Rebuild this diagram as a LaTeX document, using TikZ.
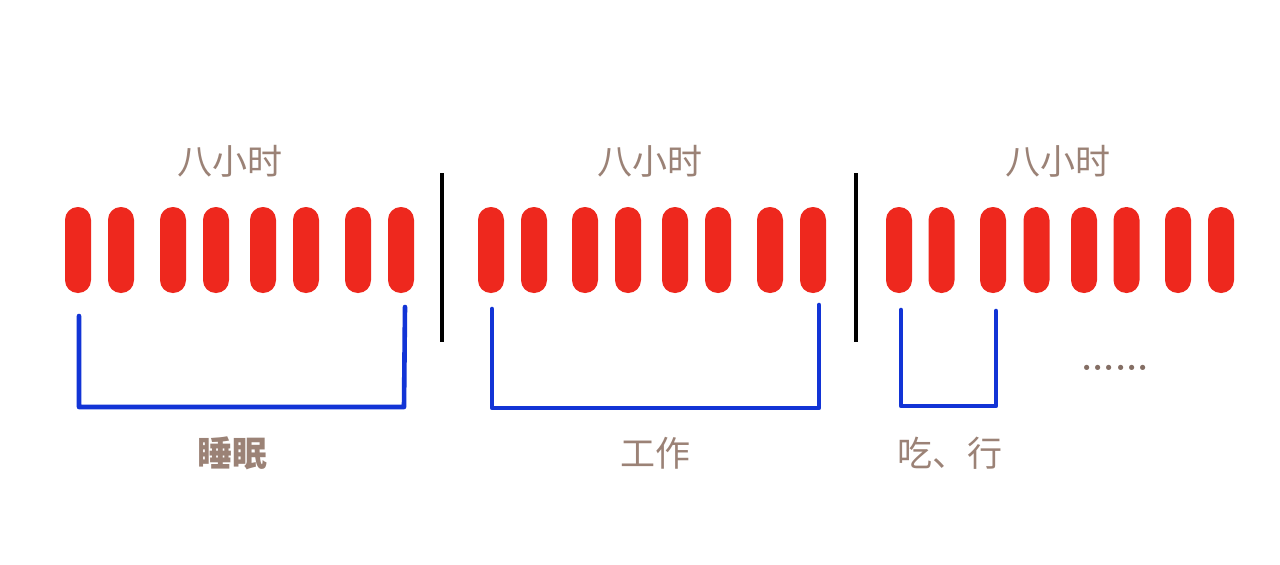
\documentclass[tikz,border=0pt]{standalone}
\usepackage{fontspec}
\newfontfamily\cjk{Noto Sans CJK SC}
\definecolor{pillred}{RGB}{238,40,30}
\definecolor{txtbrown}{RGB}{155,130,118}
\definecolor{brblue}{RGB}{18,52,214}
\begin{document}
\begin{tikzpicture}[x=0.5pt,y=-0.5pt,
  pill/.style={fill=pillred, draw=none, minimum width=13pt, minimum height=43pt, rounded corners=6.4pt, inner sep=0pt},
  lbl/.style={text=txtbrown, font=\cjk\fontsize{17.5}{20}\selectfont, inner sep=0pt},
  sep/.style={line width=2.2pt, black},
  bracket/.style={line width=2.3pt, brblue, line join=round, line cap=round}]
\useasboundingbox (0,0) rectangle (1280,564);
\fill[white] (0,0) rectangle (1280,564);
% pills
\foreach \x [count=\i] in {78,121,173,216,263,306,358,401}
  \node[pill] (a\i) at (\x,250) {};
\foreach \x [count=\i] in {491,534,585,628,675,718,770,813}
  \node[pill] (b\i) at (\x,250) {};
\foreach \x [count=\i] in {899,941.5,993,1036.5,1084,1126.5,1178,1221}
  \node[pill] (c\i) at (\x,250) {};
% top labels
\node[lbl] (t1) at (230,161) {八小时};
\node[lbl] (t2) at (650,161) {八小时};
\node[lbl] (t3) at (1058,161) {八小时};
% separators
\coordinate (s1t) at (442,173); \coordinate (s1b) at (442,342);
\coordinate (s2t) at (856,173); \coordinate (s2b) at (856,342);
\draw[sep] (s1t) -- (s1b);
\draw[sep] (s2t) -- (s2b);
% brackets
\coordinate (p1a) at (79,316); \coordinate (p1b) at (79,407);
\coordinate (p1c) at (404,407); \coordinate (p1d) at (405,307);
\draw[bracket] (p1a) -- (p1b) -- (p1c) -- (p1d);
\coordinate (p2a) at (492,309); \coordinate (p2b) at (492,408);
\coordinate (p2c) at (819,408); \coordinate (p2d) at (819,305);
\draw[bracket] (p2a) -- (p2b) -- (p2c) -- (p2d);
\coordinate (p3a) at (901,310); \coordinate (p3b) at (901,406);
\coordinate (p3c) at (996,406); \coordinate (p3d) at (996,311);
\draw[bracket] (p3a) -- (p3b) -- (p3c) -- (p3d);
% bottom labels
\node[lbl, font=\cjk\bfseries\fontsize{17.5}{20}\selectfont] (l1) at (232,453) {睡眠};
\node[lbl] (l2) at (655,453) {工作};
\node[lbl] (l3) at (950,453) {吃、行};
\node[text=txtbrown!85!black, font=\bfseries\fontsize{18}{20}\selectfont, inner sep=0pt] (dots) at (1115,368) {......};
\end{tikzpicture}
\end{document}
